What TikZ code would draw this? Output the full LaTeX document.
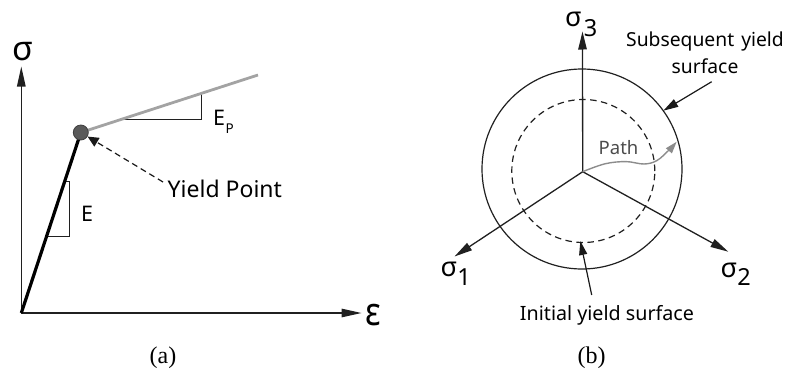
\documentclass[tikz,border=0pt]{standalone}
\usepackage{fontspec}
\setmainfont{Noto Sans}
\newfontfamily\capfont{Liberation Serif}
\usetikzlibrary{arrows.meta,calc}
\definecolor{axisgray}{HTML}{202020}
\definecolor{plasticgray}{HTML}{A3A3A3}
\definecolor{pathgray}{HTML}{8C8C8C}
\definecolor{dotgray}{HTML}{5A5A5A}
\tikzset{
  axisline/.style={draw=axisgray, line width=1.3pt, -{Triangle[length=#1pt,width=8.5pt]}},
  thinline/.style={draw=axisgray, line width=1pt},
  lbl/.style={inner sep=0pt, text=black},
  capt/.style={inner sep=0pt, font=\capfont\fontsize{24}{28}\selectfont},
  pointer/.style={draw=black!90, line width=1.2pt, -{Triangle[length=15pt,width=8.5pt]}},
}
\begin{document}
\begin{tikzpicture}[x=1pt,y=-1pt]
\useasboundingbox (0,0) rectangle (787,375);
% ---------- panel (a) ----------
\coordinate (O) at (21.3,313);
\coordinate (Ytop) at (21.3,66.5);
\coordinate (Xend) at (361.5,313);
\coordinate (Y) at (80.8,132.5);
\coordinate (Pend) at (258,75);
\draw[axisline=20] (O) -- (Ytop);
\draw[axisline=20] (O) -- (Xend);
% elastic triangle
\coordinate (E1) at (64.7,181.7);
\coordinate (E2) at (47.5,236.3);
\draw[thinline] (E1) -- (69.3,181.7) -- (69.3,236.3) -- (E2);
% plastic triangle
\coordinate (P1) at (121.5,119.3);
\coordinate (P2) at (201.7,93.3);
\draw[thinline] (P1) -- (201.7,119.3) -- (P2);
\draw[plasticgray, line width=2.8pt] (Y) -- (Pend);
\draw[black, line width=3.2pt] (O) -- (Y);
\node[circle, fill=dotgray, draw=black!75, line width=0.8pt, minimum size=15pt, inner sep=0pt] (yp) at (Y) {};
\node[lbl, anchor=base, font=\fontsize{34}{36}\selectfont] (sig) at (22.5,60) {σ};
\node[lbl, anchor=base, font=\fontsize{39}{40}\selectfont] (eps) at (373.3,325) {\scalebox{0.85}[1]{ε}};
\node[lbl, anchor=base west, font=\fontsize{21.5}{24}\selectfont] (E) at (81,221.7) {E};
\node[lbl, anchor=base west, font=\fontsize{21.5}{24}\selectfont] (Ep) at (213,125.7) {E\kern0.5pt\raisebox{-7.6pt}{\fontsize{13.5}{14}\selectfont P}};
\node[lbl, anchor=base west, font=\fontsize{23}{26}\selectfont] (yl) at (167.5,197.3) {Yield Point};
\coordinate (yt) at (163,182);
\draw[black!90, line width=1.2pt, dash pattern=on 6pt off 4pt, -{Triangle[length=11pt,width=10pt]}] (yt) -- (yp);
\node[capt] (ca) at (163,358) {(a)};
% ---------- panel (b) ----------
\coordinate (C) at (582.7,171.7);
\coordinate (S3) at (582.5,31.5);
\coordinate (S1) at (454.5,256.5);
\coordinate (S2) at (728.3,251.7);
\draw[axisgray, line width=1.2pt] (582,169) circle[radius=100pt];
\draw[axisgray, line width=1.2pt, dash pattern=on 6.5pt off 4.5pt] (583.3,171) circle[radius=71.5pt];
\draw[axisline=18] (C) -- (S3);
\draw[axisline=18] (C) -- (S1);
\draw[axisline=18] (C) -- (S2);
\node[lbl, anchor=base west, font=\fontsize{27}{30}\selectfont] (l3) at (565,26) {σ\kern2pt\raisebox{-10pt}{\fontsize{23.5}{26}\selectfont 3}};
\node[lbl, anchor=base west, font=\fontsize{27}{30}\selectfont] (l1) at (440.5,276.7) {σ\raisebox{-8.4pt}{\fontsize{23.5}{26}\selectfont 1}};
\node[lbl, anchor=base west, font=\fontsize{27}{30}\selectfont] (l2) at (720.5,277.3) {σ\raisebox{-8.4pt}{\fontsize{23.5}{26}\selectfont 2}};
% path
\coordinate (Pt) at (676.7,141.7);
\draw[pathgray, line width=1.4pt, -{Triangle[length=12pt,width=7.5pt]}] plot[smooth, tension=0.6] coordinates {(582.7,171.7) (605,163.8) (626,161.6) (644,164) (657,160.5) (669,150) (676.7,141.7)};
\node[lbl, anchor=base west, text=black!70, font=\fontsize{18.5}{22}\selectfont] (pl) at (598.5,154) {Path};
% labels with pointers
\node[lbl, align=center, anchor=base, font=\fontsize{19.3}{26.6}\selectfont] (sub) at (705,73.3) {Subsequent\kern2pt{} yield\\surface};
\coordinate (subt) at (711.7,81.7);
\coordinate (subh) at (663.3,110.7);
\draw[pointer] (subt) -- (subh);
\node[lbl, anchor=base, font=\fontsize{19.7}{24}\selectfont] (ini) at (607,320) {Initial yield surface};
\coordinate (init) at (591.7,295);
\coordinate (inih) at (580.3,241);
\draw[pointer, -{Triangle[length=14pt,width=8pt]}] (init) -- (inih);
\node[capt] (cb) at (591.7,358) {(b)};
\end{tikzpicture}
\end{document}
